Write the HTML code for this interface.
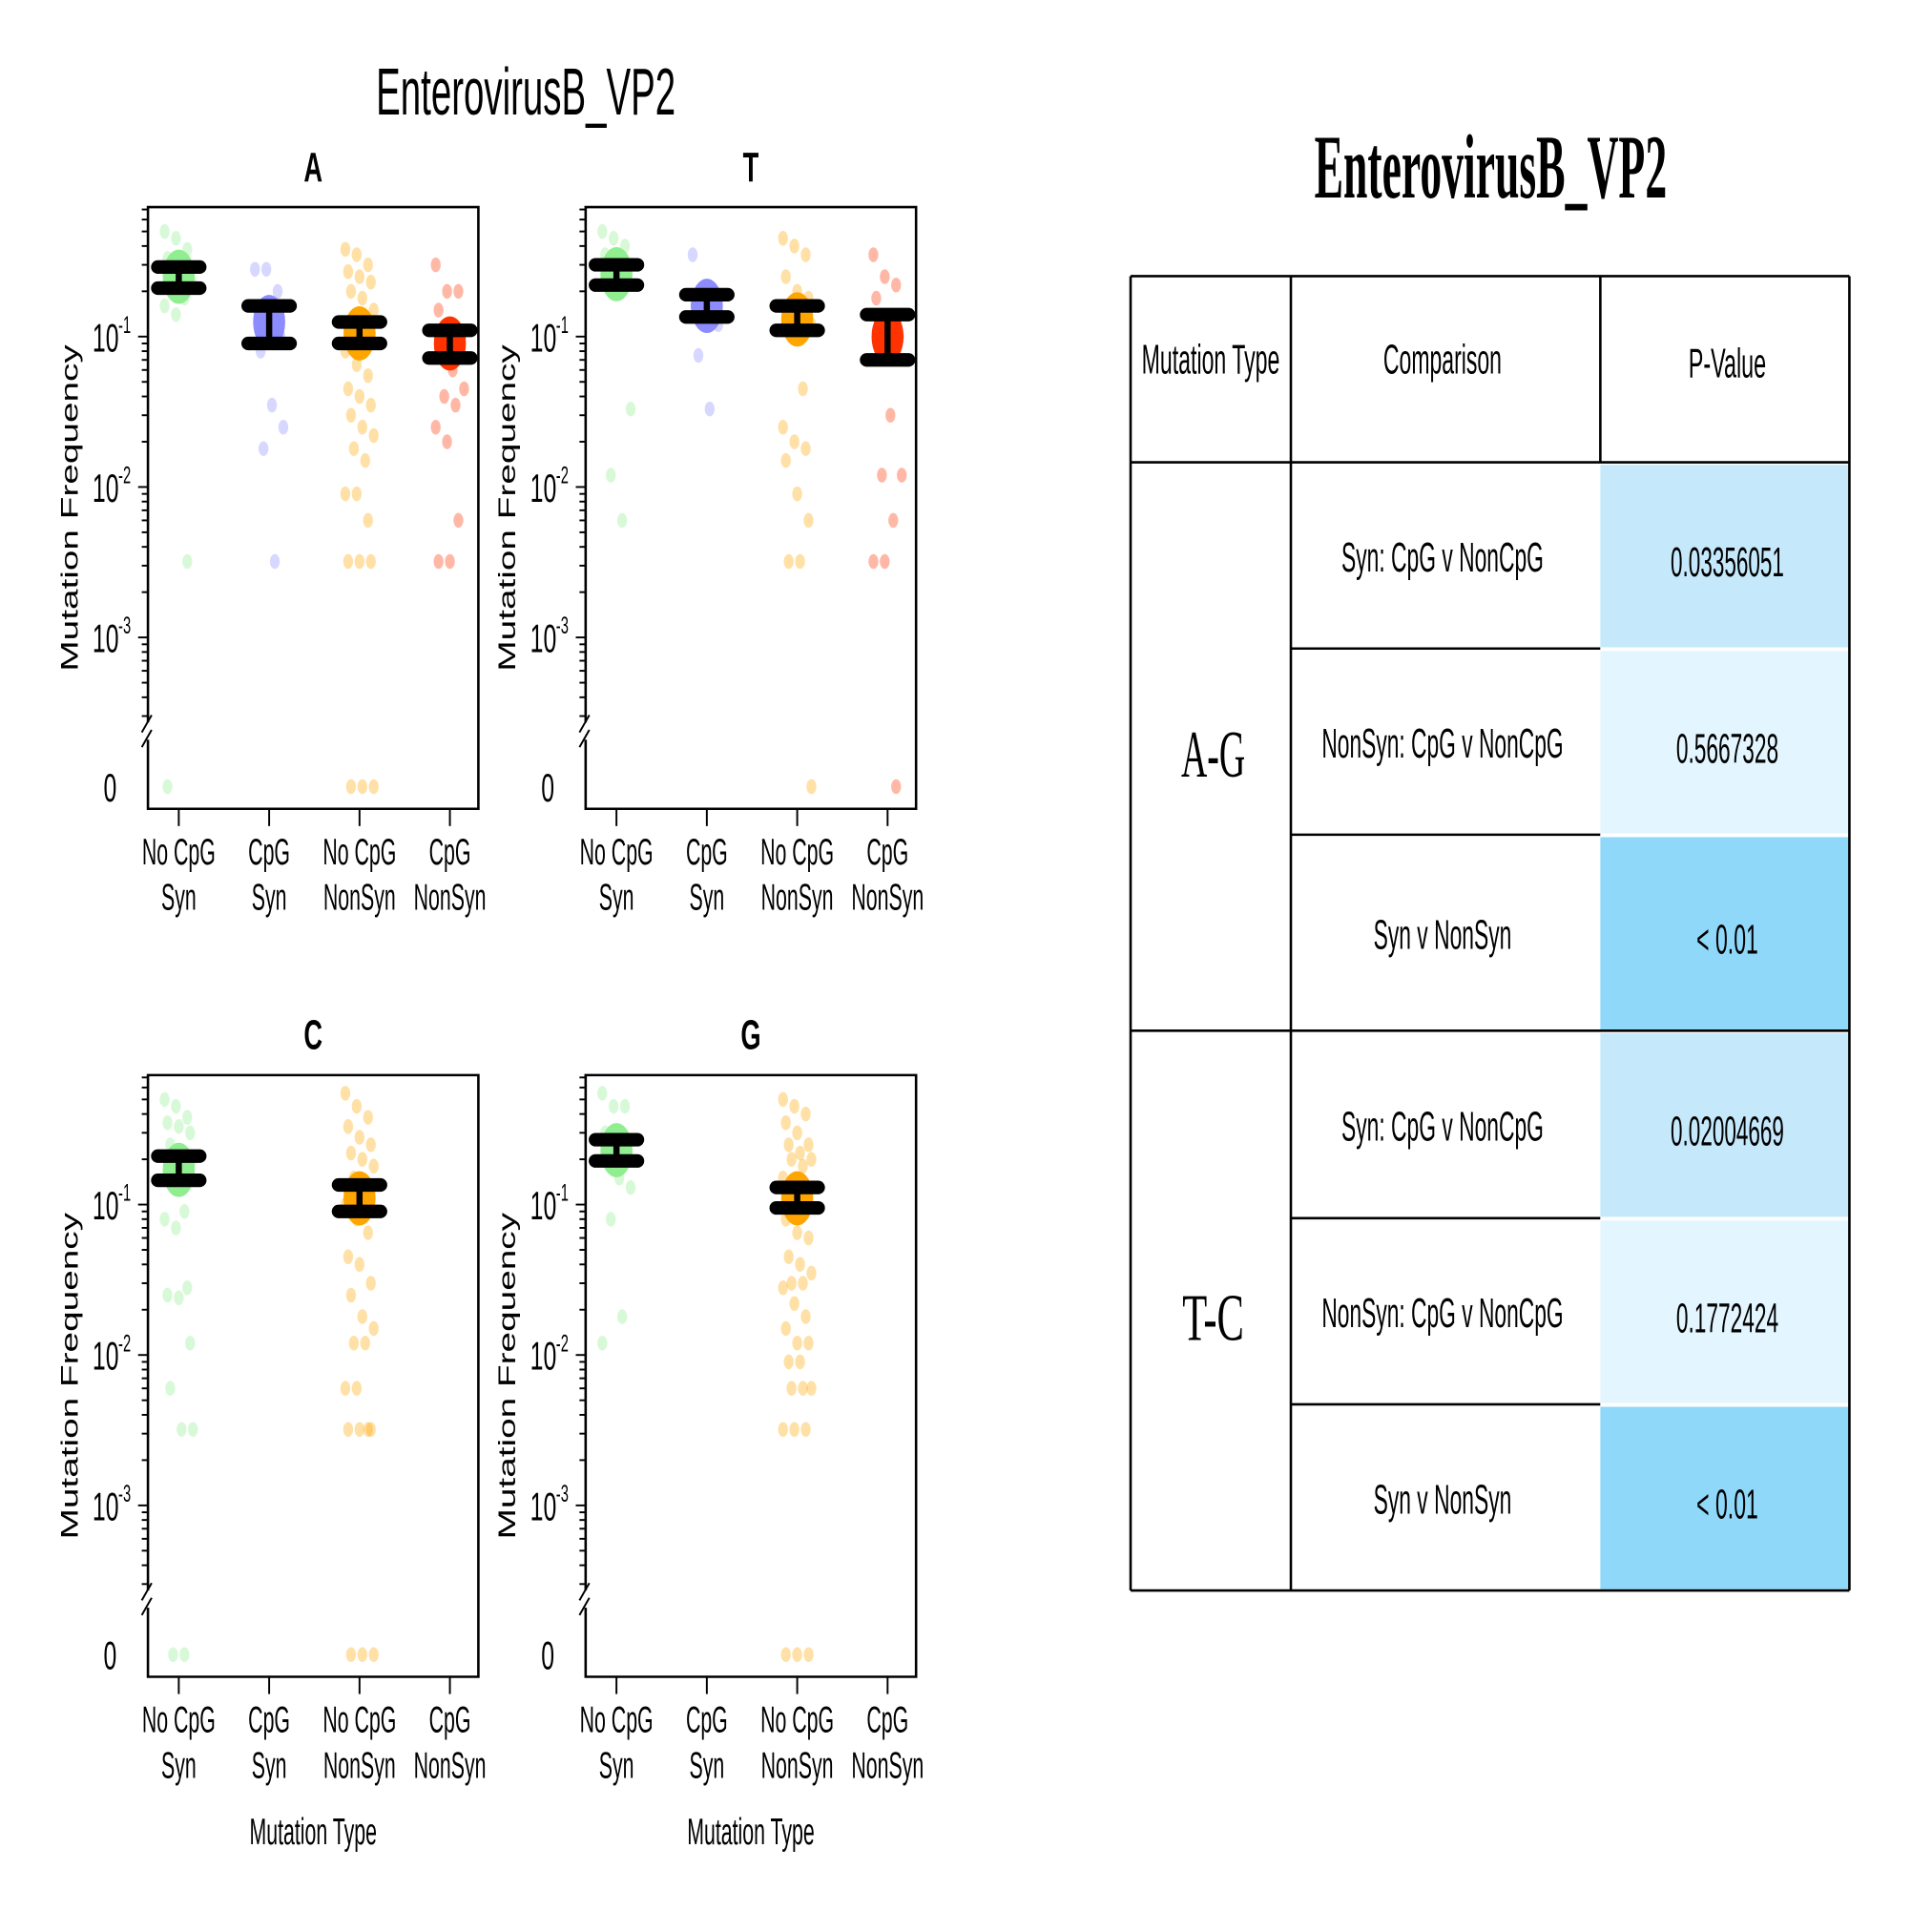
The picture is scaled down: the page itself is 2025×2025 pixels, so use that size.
<!DOCTYPE html>
<html><head><meta charset="utf-8">
<style>
html,body{margin:0;padding:0;background:#fff;}
svg{display:block;}
text{font-family:"Liberation Sans",sans-serif;}
.serif{font-family:"Liberation Serif",serif;}
</style></head>
<body>
<svg id="root" width="2025" height="2025" viewBox="0 0 1567 1567" xmlns="http://www.w3.org/2000/svg">
<text x="305" y="93" textLength="243" lengthAdjust="spacingAndGlyphs" font-size="54">EnterovirusB_VP2</text>
<g id="plots"></g>
<g id="table"></g>
</svg>
<script>
const NS="http://www.w3.org/2000/svg";
// ---------- data ----------
const categories=[["No CpG","Syn"],["CpG","Syn"],["No CpG","NonSyn"],["CpG","NonSyn"]];
const panelTitles=["A","T","C","G"];
const pointsA=[
 [0.5,0.45,0.38,0.33,0.3,0.28,0.26,0.24,0.22,0.2,0.18,0.16,0.14,0.0032,0],
 [0.28,0.28,0.2,0.15,0.12,0.1,0.08,0.035,0.025,0.018,0.0032],
 [0.38,0.35,0.3,0.27,0.25,0.23,0.2,0.18,0.15,0.12,0.1,0.08,0.065,0.055,0.045,0.04,0.035,0.03,0.025,0.022,0.018,0.015,0.009,0.009,0.006,0.0032,0.0032,0.0032,0,0,0],
 [0.3,0.2,0.2,0.15,0.12,0.1,0.08,0.06,0.045,0.04,0.035,0.025,0.02,0.006,0.0032,0.0032]];
const pointsT=[
 [0.5,0.45,0.4,0.35,0.3,0.28,0.25,0.22,0.033,0.012,0.006],
 [0.35,0.2,0.18,0.16,0.14,0.12,0.075,0.033],
 [0.45,0.4,0.35,0.25,0.2,0.18,0.16,0.14,0.12,0.1,0.045,0.025,0.02,0.018,0.015,0.009,0.006,0.0032,0.0032,0],
 [0.35,0.25,0.22,0.18,0.12,0.1,0.09,0.03,0.012,0.012,0.006,0.0032,0.0032,0]];
const pointsC=[
 [0.5,0.45,0.38,0.35,0.33,0.3,0.25,0.22,0.2,0.15,0.09,0.08,0.07,0.028,0.025,0.024,0.012,0.006,0.0032,0.0032,0,0],
 [],
 [0.55,0.45,0.38,0.33,0.28,0.25,0.22,0.2,0.18,0.15,0.12,0.1,0.08,0.065,0.045,0.04,0.03,0.025,0.018,0.015,0.012,0.012,0.006,0.006,0.0032,0.0032,0.0032,0.0032,0,0,0],
 []];
const pointsG=[
 [0.55,0.45,0.45,0.3,0.25,0.22,0.2,0.15,0.13,0.08,0.018,0.012],
 [],
 [0.5,0.45,0.4,0.35,0.3,0.25,0.25,0.22,0.2,0.2,0.18,0.15,0.12,0.1,0.08,0.065,0.06,0.045,0.04,0.035,0.03,0.03,0.028,0.022,0.018,0.015,0.012,0.012,0.009,0.009,0.006,0.006,0.006,0.0032,0.0032,0.0032,0,0,0],
 []];
const meansA=[0.25,0.125,0.105,0.09], lowA=[0.21,0.09,0.09,0.072], highA=[0.29,0.16,0.125,0.11];
const meansT=[0.26,0.16,0.13,0.1], lowT=[0.22,0.135,0.11,0.07], highT=[0.3,0.19,0.16,0.14];
const meansC=[0.17,null,0.11,null], lowC=[0.145,null,0.09,null], highC=[0.21,null,0.135,null];
const meansG=[0.23,null,0.11,null], lowG=[0.195,null,0.095,null], highG=[0.27,null,0.13,null];
const yTickExps=[-1,-2,-3];
const colors=["#90ee90","#8c8cff","#ffa500","#ff3300"];

const panels=[
 {t:"A",x:120,y:168,pts:pointsA,m:meansA,lo:lowA,hi:highA,xlab:false},
 {t:"T",x:475,y:168,pts:pointsT,m:meansT,lo:lowT,hi:highT,xlab:false},
 {t:"C",x:120,y:872,pts:pointsC,m:meansC,lo:lowC,hi:highC,xlab:true},
 {t:"G",x:475,y:872,pts:pointsG,m:meansG,lo:lowG,hi:highG,xlab:true}];

function el(tag,attrs,parent){const e=document.createElementNS(NS,tag);for(const k in attrs)e.setAttribute(k,attrs[k]);parent.appendChild(e);return e;}
const plots=document.getElementById('plots');
const W=268,H=488;
panels.forEach((p,pi)=>{
  const g=el('g',{},plots);
  
  
  const yScale=v=> v<=0 ? p.y+470 : p.y+105-(Math.log10(v)+1)*122;
  const xScale=i=> p.x+25+i*73.3;
  const tt=el('text',{x:p.x+134,y:p.y-21,'text-anchor':'middle','font-size':34,'font-weight':'bold',transform:`translate(${p.x+134} 0) scale(0.62 1) translate(${-(p.x+134)} 0)`},g);
  tt.textContent=p.t;
  
  
  el('polyline',{points:`${p.x},${p.y+418} ${p.x},${p.y} ${p.x+W},${p.y} ${p.x+W},${p.y+H} ${p.x},${p.y+H} ${p.x},${p.y+432}`,fill:'none',stroke:'#000','stroke-width':2},g);
  el('line',{x1:p.x-5,y1:p.y+426,x2:p.x+3,y2:p.y+412,stroke:'#000','stroke-width':1.5},g);
  el('line',{x1:p.x-5,y1:p.y+438,x2:p.x+3,y2:p.y+424,stroke:'#000','stroke-width':1.5},g);
  for(let e=-4;e<=0;e++){for(let k=1;k<=9;k++){const v=k*Math.pow(10,e);const y=yScale(v);if(y<p.y||y>p.y+418)continue;
    el('line',{x1:p.x-(k==1?8:5),y1:y,x2:p.x,y2:y,stroke:'#000','stroke-width':1.5},g);}}
  yTickExps.forEach(ex=>{const y=yScale(Math.pow(10,ex));
    const t=el('text',{x:p.x-45,y:y+12,'font-size':32,transform:`translate(${p.x-45} 0) scale(0.6 1) translate(${-(p.x-45)} 0)`},g);
    t.textContent='10';
    
    
    const s=el('text',{x:p.x-24,y:y-3,'font-size':19,transform:`translate(${p.x-24} 0) scale(0.6 1) translate(${-(p.x-24)} 0)`},g);
    s.textContent=String(ex);});
  const z=el('text',{x:p.x-36,y:p.y+482,'font-size':32,transform:`translate(${p.x-36} 0) scale(0.6 1) translate(${-(p.x-36)} 0)`},g);
  z.textContent='0';
  
  
  const yl=el('text',{x:0,y:0,'font-size':19,'text-anchor':'middle',textLength:265,lengthAdjust:'spacingAndGlyphs',transform:`translate(${p.x-57} ${p.y+244}) rotate(-90)`},g);
  yl.textContent='Mutation Frequency';
  
  
  categories.forEach((c,i)=>{const x=xScale(i);
    el('line',{x1:x,y1:p.y+H,x2:x,y2:p.y+H+14,stroke:'#000','stroke-width':1.5},g);
    c.forEach((s,li)=>{const t=el('text',{x:x,y:p.y+H+45+li*37,'text-anchor':'middle','font-size':30,transform:`translate(${x} 0) scale(0.55 1) translate(${-x} 0)`},g);
      t.textContent=s;
      
      });});
  if(p.xlab){const xt=el('text',{x:p.x+134,y:p.y+H+136,'text-anchor':'middle','font-size':30,transform:`translate(${p.x+134} 0) scale(0.55 1) translate(${-(p.x+134)} 0)`},g);
    xt.textContent='Mutation Type';
    
    }
  p.pts.forEach((arr,i)=>{arr.forEach((v,j)=>{const jit=((j*37)%11-5)*2.3;
    const c=el('ellipse',{cx:xScale(i)+jit,cy:yScale(v),rx:4,ry:6,fill:colors[i],'fill-opacity':0.35},g);
    
    });});
  p.m.forEach((m,i)=>{if(m==null)return;const x=xScale(i);
    const b=el('ellipse',{cx:x,cy:yScale(m),rx:13,ry:22,fill:colors[i]},g);
    
    
    const yh=yScale(p.hi[i]),yl2=yScale(p.lo[i]);
    el('line',{x1:x,y1:yh,x2:x,y2:yl2,stroke:'#000','stroke-width':5},g);
    [yh,yl2].forEach(y=>{const cap=el('line',{x1:x-17,y1:y,x2:x+17,y2:y,stroke:'#000','stroke-width':11,'stroke-linecap':'round'},g);
      
      });});
});

// ---------- table ----------
const tbl=document.getElementById('table');
const rowsY=[224,375,526,677,836,988,1139,1290];
const comparisons=["Syn: CpG v NonCpG","NonSyn: CpG v NonCpG","Syn v NonSyn","Syn: CpG v NonCpG","NonSyn: CpG v NonCpG","Syn v NonSyn"];
const pvalues=["0.03356051","0.5667328","< 0.01","0.02004669","0.1772424","< 0.01"];
const pcolors=["#c5e9fb","#e3f5fe","#90d8fa","#c5e9fb","#e3f5fe","#90d8fa"];
const groups=["A-G","T-C"];
const tt=el('text',{x:1066,y:160,'font-size':74,'font-weight':'bold',class:'serif',textLength:286,lengthAdjust:'spacingAndGlyphs'},tbl);
tt.textContent='EnterovirusB_VP2';


pvalues.forEach((v,i)=>{const r=el('rect',{x:1298,y:rowsY[i+1]+2,width:202,height:rowsY[i+2]-rowsY[i+1]-3,fill:pcolors[i]},tbl);
  
  });
function hline(y,x1,x2){el('line',{x1:x1,y1:y,x2:x2,y2:y,stroke:'#000','stroke-width':2},tbl);}
function vline(x,y1,y2){el('line',{x1:x,y1:y1,x2:x,y2:y2,stroke:'#000','stroke-width':2},tbl);}
hline(224,917,1500);hline(375,917,1500);hline(836,917,1500);hline(1290,917,1500);
[526,677,988,1139].forEach(y=>{hline(y,1047,1298);el('line',{x1:1298,y1:y,x2:1500,y2:y,stroke:'#fff','stroke-width':2},tbl);});
vline(917,224,1290);vline(1047,224,1290);vline(1298,224,375);vline(1500,224,1290);
function ctext(s,cx,y,size,len,name,cls){const t=el('text',{x:cx-len/2,y:y,'font-size':size,textLength:len,lengthAdjust:'spacingAndGlyphs'},tbl);if(cls)t.setAttribute('class',cls);t.textContent=s;
  
  return t;}
ctext('Mutation Type',982,303,34,112,'header-mutation-type');
ctext('Comparison',1170,303,34,96,'header-comparison');
ctext('P-Value',1401,306,34,63,'header-p-value');
const compLens={"Syn: CpG v NonCpG":164,"NonSyn: CpG v NonCpG":196,"Syn v NonSyn":112};
const pLens={"0.03356051":92,"0.5667328":83,"0.02004669":92,"0.1772424":83,"< 0.01":50};
comparisons.forEach((c,i)=>{const y=(rowsY[i+1]+rowsY[i+2])/2+13;
  ctext(c,1170,y,34,compLens[c],'comparison-cell');
  ctext(pvalues[i],1401,y+4,34,pLens[pvalues[i]],'p-value-text');});
ctext(groups[0],984,630,54,52,'group-label','serif');
ctext(groups[1],984,1087,54,50,'group-label','serif');
</script>
</body></html>
